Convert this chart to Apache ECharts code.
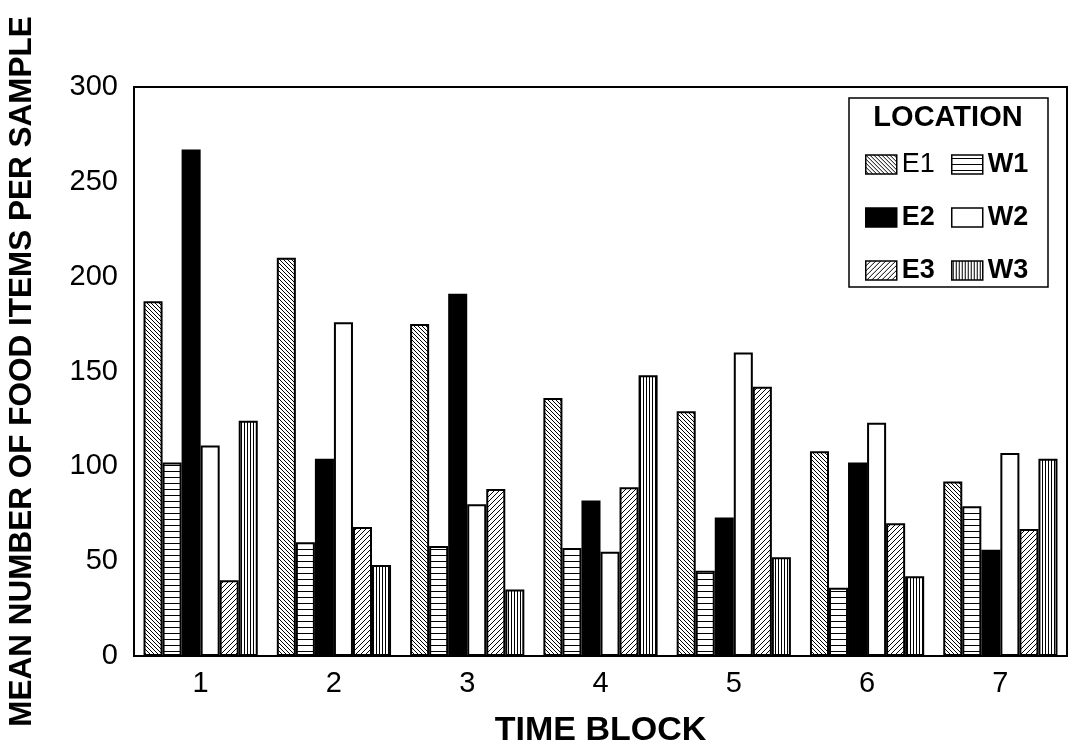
<!DOCTYPE html>
<html><head><meta charset="utf-8">
<script src="https://cdn.jsdelivr.net/npm/echarts@6/dist/echarts.min.js"></script>
<style>html,body{margin:0;padding:0;background:#fff}#c{width:1075px;height:748px}</style>
</head><body><div id="c"></div>
<script>
const categories = ['1', '2', '3', '4', '5', '6', '7'];
const seriesNames = ['E1', 'W1', 'E2', 'W2', 'E3', 'W3'];
const E1 = [187, 210, 175, 136, 129, 108, 92];
const W1 = [102, 60, 58, 57, 45, 36, 79];
const E2 = [267, 104, 191, 82, 73, 102, 56];
const W2 = [111, 176, 80, 55, 160, 123, 107];
const E3 = [40, 68, 88, 89, 142, 70, 67];
const W3 = [124, 48, 35, 148, 52, 42, 104];
const yMin = 0, yMax = 300, yStep = 50;

const FONT = '"Liberation Sans", Arial, Helvetica, sans-serif';

function pattern(kind) {
  const p = {back: 4, fwd: 5, horiz: 6, vert: 3}[kind];
  const c = document.createElement('canvas');
  c.width = p; c.height = p;
  const g = c.getContext('2d');
  g.fillStyle = '#fff'; g.fillRect(0, 0, p, p);
  g.fillStyle = '#000'; g.strokeStyle = '#000'; g.lineWidth = 1;
  if (kind === 'back' || kind === 'fwd') {
    g.beginPath();
    for (let k = -1; k <= 1; k++) {
      if (kind === 'back') { g.moveTo(k * p, 0); g.lineTo(k * p + p, p); }
      else { g.moveTo(k * p, p); g.lineTo(k * p + p, 0); }
    }
    g.stroke();
  } else if (kind === 'horiz') {
    g.fillRect(0, 3, p, 1);
  } else {
    g.fillRect(1, 0, 1, p);
  }
  return {image: c, repeat: 'repeat'};
}

const fills = {
  E1: pattern('back'),
  W1: pattern('horiz'),
  E2: '#000',
  W2: '#fff',
  E3: pattern('fwd'),
  W3: pattern('vert')
};
const values = {E1, W1, E2, W2, E3, W3};

const chart = echarts.init(document.getElementById('c'), null, {renderer: 'canvas'});

const legendCommon = {
  orient: 'vertical', top: 146, icon: 'rect', itemWidth: 31, itemHeight: 19, itemGap: 26,
  selectedMode: false,
  textStyle: {fontSize: 27, fontWeight: 'bold', color: '#000', fontFamily: FONT, lineHeight: 26},
  itemStyle: {borderColor: '#000', borderWidth: 1.5}
};

chart.setOption({
  animation: false,
  backgroundColor: '#fff',
  textStyle: {fontFamily: FONT},
  grid: {left: 134, right: 8, top: 87, bottom: 92, containLabel: false, outerBoundsMode: 'none',
         show: true, borderColor: '#000', borderWidth: 2, backgroundColor: 'transparent'},
  xAxis: {
    type: 'category', data: categories, boundaryGap: true,
    name: 'TIME BLOCK', nameLocation: 'middle', nameGap: 58,
    nameTextStyle: {fontSize: 34, fontWeight: 'bold', color: '#000', fontFamily: FONT},
    axisLine: {show: true, lineStyle: {color: '#000', width: 2}},
    axisTick: {show: false},
    axisLabel: {fontSize: 29, color: '#000', margin: 13, fontFamily: FONT},
    splitLine: {show: false}
  },
  yAxis: {
    type: 'value', min: yMin, max: yMax, interval: yStep,
    name: 'MEAN NUMBER OF FOOD ITEMS PER SAMPLE', nameLocation: 'middle', nameGap: 96,
    nameTextStyle: {fontSize: 31.5, fontWeight: 'bold', color: '#000', fontFamily: FONT},
    axisLine: {show: true, lineStyle: {color: '#000', width: 2}},
    axisTick: {show: false},
    axisLabel: {fontSize: 29, color: '#000', margin: 16, fontFamily: FONT},
    splitLine: {show: false}
  },
  legend: [
    Object.assign({}, legendCommon, {left: 860, data: [{name: 'E1', textStyle: {fontWeight: 'normal'}}, 'E2', 'E3']}),
    Object.assign({}, legendCommon, {left: 946, data: ['W1', 'W2', 'W3']})
  ],
  graphic: [
    {type: 'rect', z: 3, shape: {x: 849, y: 98, width: 199, height: 189},
     style: {fill: '#fff', stroke: '#000', lineWidth: 1.5}},
    {type: 'text', z: 5, x: 948, y: 118,
     style: {text: 'LOCATION', fill: '#000', font: 'bold 29px ' + FONT, textAlign: 'center', textVerticalAlign: 'middle'}}
  ],
  series: seriesNames.map(n => ({
    name: n, type: 'bar', data: values[n],
    barGap: '0%', barCategoryGap: '14.3%',
    itemStyle: {color: fills[n], borderColor: '#000', borderWidth: 2},
    emphasis: {disabled: true}
  }))
});
</script></body></html>
